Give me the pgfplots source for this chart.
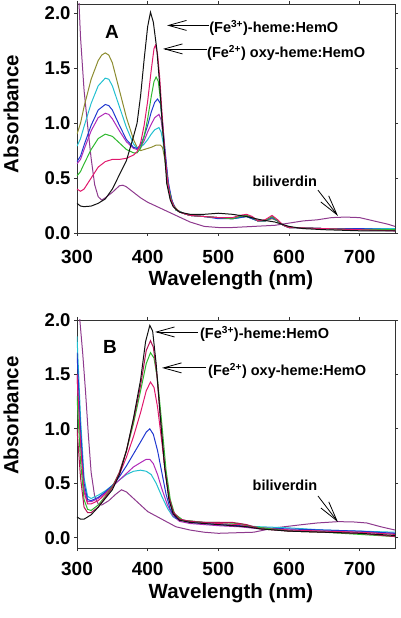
\documentclass[border=0pt]{standalone}
\usepackage{fontspec}
\setmainfont{Liberation Sans}
\usepackage{pgfplots}
\pgfplotsset{compat=1.18}
\usetikzlibrary{arrows.meta}
\definecolor{cblack}{HTML}{111111}
\definecolor{ccrim}{HTML}{E0186C}
\definecolor{cgreen}{HTML}{2EB82E}
\definecolor{cblue}{HTML}{2038D0}
\definecolor{cviol}{HTML}{B02AB8}
\definecolor{ccyan}{HTML}{22C0D0}
\definecolor{colive}{HTML}{8C8C30}
\definecolor{cplum}{HTML}{8E3A8E}
\tikzset{ann/.style={font=\fontsize{14.5}{14.5}\selectfont\bfseries, anchor=west, inner sep=0pt}}
\pgfplotsset{
  panel/.style={
    scale only axis, width=318pt, xmin=300, xmax=750,
    xtick={300,400,500,600,700}, ytick={0,0.5,1,1.5,2},
    tick align=outside, major tick length=3pt,
    axis line style={line width=0.8pt, black!80},
    tick style={line width=0.8pt, black!80},
    /pgf/number format/assume math mode=true,
    yticklabel style={/pgf/number format/.cd, fixed, fixed zerofill, precision=1, /tikz/.cd,
       font=\fontsize{18.5}{18.5}\selectfont\bfseries},
    xticklabel style={font=\fontsize{19}{19}\selectfont\bfseries, inner sep=0pt},
    every axis plot/.append style={line width=1pt},
    clip mode=individual,
  },
}
\begin{document}
\begin{tikzpicture}
\useasboundingbox (0,0) rectangle (400pt,618pt);
% ---------------- Panel A
\begin{axis}[panel, at={(77pt,385pt)}, anchor=south west, height=229pt, ymin=0, ymax=2.085,
  xticklabel style={yshift=-14pt}]
\addplot[cplum] coordinates {(300,2.5)(305,1.78)(310,1.3)(315,0.98)(320,0.68)(325,0.44)(330,0.33)(335,0.30)(340,0.32)(350,0.37)(360,0.43)(365,0.435)(370,0.42)(380,0.37)(390,0.32)(400,0.28)(420,0.22)(440,0.16)(460,0.10)(480,0.06)(500,0.05)(520,0.05)(550,0.06)(580,0.07)(600,0.09)(620,0.11)(640,0.12)(660,0.14)(680,0.145)(700,0.14)(720,0.11)(740,0.08)(750,0.06)};
\addplot[colive] coordinates {(300,0.90)(305,1.00)(310,1.15)(320,1.40)(330,1.57)(335,1.62)(340,1.64)(345,1.62)(350,1.55)(360,1.30)(370,1.05)(380,0.85)(385,0.78)(390,0.75)(395,0.76)(400,0.77)(405,0.78)(412,0.80)(418,0.80)(421,0.78)(424,0.68)(427,0.52)(431,0.36)(436,0.26)(442,0.21)(450,0.18)(460,0.16)(480,0.15)(500,0.14)(520,0.13)(530,0.14)(540,0.15)(548,0.13)(556,0.11)(566,0.11)(576,0.13)(584,0.11)(592,0.07)(600,0.05)(650,0.04)(700,0.03)(750,0.03)};
\addplot[ccyan] coordinates {(300,0.79)(305,0.86)(310,0.97)(320,1.18)(330,1.34)(340,1.41)(345,1.40)(350,1.34)(360,1.15)(370,0.96)(380,0.81)(385,0.77)(390,0.78)(395,0.81)(400,0.85)(405,0.90)(410,0.94)(416,0.96)(419,0.92)(422,0.82)(426,0.61)(430,0.41)(435,0.28)(440,0.21)(450,0.18)(460,0.16)(480,0.15)(500,0.14)(520,0.13)(530,0.14)(540,0.15)(548,0.13)(556,0.11)(566,0.11)(576,0.14)(584,0.11)(592,0.07)(600,0.05)(650,0.04)(700,0.04)(750,0.04)};
\addplot[cviol] coordinates {(300,0.63)(305,0.67)(310,0.76)(320,0.93)(330,1.05)(340,1.09)(345,1.08)(350,1.04)(360,0.93)(370,0.83)(380,0.77)(385,0.76)(390,0.78)(395,0.84)(400,0.92)(405,0.99)(410,1.05)(416,1.08)(419,1.03)(422,0.88)(426,0.63)(430,0.42)(435,0.28)(440,0.21)(450,0.18)(460,0.16)(480,0.15)(500,0.14)(520,0.13)(530,0.15)(540,0.16)(548,0.14)(556,0.11)(566,0.11)(576,0.14)(584,0.11)(592,0.07)(600,0.05)(650,0.04)(700,0.03)(750,0.02)};
\addplot[cblue] coordinates {(300,0.65)(305,0.70)(310,0.80)(320,0.98)(330,1.12)(340,1.17)(345,1.16)(350,1.12)(360,0.98)(370,0.85)(380,0.78)(385,0.77)(390,0.80)(395,0.88)(400,0.98)(405,1.10)(410,1.19)(414,1.22)(418,1.18)(421,1.01)(425,0.73)(429,0.47)(434,0.30)(440,0.21)(450,0.18)(460,0.16)(480,0.15)(500,0.13)(520,0.13)(530,0.14)(540,0.15)(548,0.13)(556,0.11)(566,0.11)(576,0.14)(584,0.11)(592,0.07)(600,0.05)(650,0.04)(700,0.04)(750,0.03)};
\addplot[cgreen] coordinates {(300,0.52)(305,0.56)(310,0.63)(320,0.76)(330,0.86)(340,0.90)(350,0.88)(360,0.82)(370,0.76)(380,0.73)(385,0.73)(390,0.77)(395,0.88)(400,1.04)(405,1.24)(409,1.38)(412,1.42)(415,1.38)(418,1.22)(421,0.96)(425,0.66)(429,0.43)(434,0.29)(440,0.21)(450,0.18)(460,0.16)(480,0.15)(500,0.14)(520,0.13)(530,0.15)(540,0.16)(548,0.14)(556,0.11)(566,0.11)(576,0.15)(584,0.11)(592,0.07)(600,0.05)(650,0.04)(700,0.03)(750,0.03)};
\addplot[ccrim] coordinates {(300,0.40)(305,0.38)(310,0.40)(320,0.50)(330,0.60)(340,0.65)(350,0.67)(360,0.67)(370,0.68)(380,0.71)(385,0.74)(390,0.82)(395,0.98)(400,1.20)(405,1.48)(409,1.68)(411,1.71)(414,1.63)(417,1.42)(420,1.12)(424,0.76)(428,0.48)(432,0.32)(438,0.23)(445,0.19)(460,0.16)(480,0.15)(500,0.14)(520,0.14)(530,0.16)(540,0.17)(548,0.15)(556,0.11)(566,0.12)(576,0.16)(584,0.12)(592,0.07)(600,0.05)(650,0.04)(700,0.03)(750,0.02)};
\addplot[cblack] coordinates {(300,0.27)(305,0.245)(310,0.24)(320,0.245)(330,0.27)(340,0.31)(350,0.40)(360,0.53)(370,0.66)(380,0.88)(385,1.00)(390,1.25)(395,1.58)(400,1.88)(404,2.01)(408,1.92)(413,1.67)(417,1.35)(420,1.06)(424,0.72)(427,0.45)(432,0.30)(436,0.24)(445,0.19)(460,0.17)(480,0.17)(500,0.18)(520,0.17)(540,0.15)(560,0.12)(580,0.10)(600,0.06)(620,0.04)(650,0.03)(700,0.02)(750,0.02)};
\node[font=\fontsize{19}{19}\selectfont\bfseries] at (axis cs:349.5,1.83) {A};
\draw[line width=0.8pt, -{Straight Barb[length=18pt,width=10pt]}] (axis cs:487,1.89) -- (axis cs:427.4,1.89);
\node[ann] at (axis cs:487,1.87) {(Fe\textsuperscript{3+})-heme:HemO};
\draw[line width=0.8pt, -{Straight Barb[length=18pt,width=10pt]}] (axis cs:484,1.676) -- (axis cs:421.7,1.676);
\node[ann] at (axis cs:484,1.64) {(Fe\textsuperscript{2+}) oxy-heme:HemO};
\node[font=\fontsize{14.5}{14.5}\selectfont\bfseries] at (axis cs:594,0.474) {biliverdin};
\draw[line width=0.8pt, -{Straight Barb[length=20pt,width=10pt]}] (axis cs:641,0.39) -- (axis cs:669.3,0.155);
\node[font=\fontsize{20.5}{20.5}\selectfont\bfseries, rotate=90, inner sep=0pt] at (axis description cs:-0.2075,0.52) {Absorbance};
\node[font=\fontsize{20.5}{20.5}\selectfont\bfseries, inner sep=0pt] at (axis description cs:0.484,-0.207) {Wavelength (nm)};
\end{axis}
% ---------------- Panel B
\begin{axis}[panel, at={(77pt,70pt)}, anchor=south west, height=228pt, ymin=-0.095, ymax=2.0,
  xticklabel style={yshift=-11pt}]
\addplot[cplum] coordinates {(300,2.6)(304,2.0)(308,1.7)(312,1.35)(316,0.95)(320,0.6)(325,0.38)(330,0.31)(335,0.30)(345,0.34)(355,0.40)(363,0.44)(370,0.42)(380,0.36)(390,0.30)(400,0.24)(420,0.17)(440,0.10)(460,0.07)(480,0.05)(500,0.04)(550,0.05)(580,0.09)(615,0.117)(640,0.135)(669,0.147)(690,0.145)(710,0.135)(730,0.10)(750,0.07)};
\addplot[ccyan] coordinates {(300,1.85)(305,1.1)(310,0.55)(315,0.38)(320,0.36)(330,0.39)(340,0.43)(350,0.48)(360,0.53)(370,0.58)(380,0.61)(390,0.62)(398,0.61)(405,0.58)(412,0.50)(420,0.38)(428,0.27)(436,0.19)(445,0.16)(460,0.15)(480,0.14)(500,0.13)(530,0.11)(560,0.10)(600,0.09)(650,0.07)(700,0.06)(750,0.05)};
\addplot[cviol] coordinates {(300,1.5)(305,0.9)(310,0.45)(315,0.33)(320,0.33)(330,0.36)(340,0.41)(350,0.47)(360,0.53)(370,0.59)(380,0.65)(390,0.69)(398,0.72)(403,0.72)(408,0.68)(414,0.58)(420,0.45)(428,0.30)(436,0.20)(445,0.15)(460,0.13)(480,0.12)(500,0.11)(530,0.10)(560,0.08)(600,0.07)(650,0.06)(700,0.05)(750,0.04)};
\addplot[cblue] coordinates {(300,1.7)(305,1.0)(310,0.5)(315,0.35)(320,0.34)(330,0.37)(340,0.42)(350,0.48)(360,0.56)(370,0.66)(380,0.77)(390,0.88)(398,0.97)(403,1.00)(408,0.95)(414,0.80)(420,0.60)(426,0.40)(432,0.26)(440,0.18)(460,0.14)(480,0.13)(500,0.12)(530,0.11)(560,0.09)(600,0.08)(650,0.07)(700,0.06)(750,0.04)};
\addplot[ccrim] coordinates {(300,1.5)(305,0.85)(310,0.42)(315,0.31)(320,0.31)(330,0.34)(340,0.40)(350,0.47)(360,0.58)(370,0.74)(380,0.93)(390,1.15)(398,1.35)(404,1.43)(409,1.38)(414,1.20)(420,0.88)(426,0.55)(432,0.32)(438,0.21)(450,0.16)(480,0.14)(500,0.13)(530,0.12)(560,0.09)(600,0.07)(650,0.06)(700,0.05)(750,0.03)};
\addplot[cgreen] coordinates {(300,1.3)(305,0.7)(310,0.35)(315,0.26)(320,0.25)(330,0.30)(340,0.38)(350,0.47)(360,0.60)(370,0.80)(380,1.05)(390,1.35)(398,1.60)(404,1.70)(409,1.65)(414,1.45)(420,1.05)(426,0.62)(432,0.35)(438,0.22)(450,0.16)(480,0.14)(500,0.14)(530,0.13)(550,0.10)(600,0.06)(650,0.05)(700,0.03)(750,0.01)};
\addplot[color=ccrim!80!black] coordinates {(300,1.0)(305,0.55)(310,0.28)(315,0.23)(320,0.23)(330,0.28)(340,0.37)(350,0.46)(360,0.60)(370,0.80)(380,1.08)(390,1.40)(398,1.72)(404,1.81)(408,1.75)(413,1.50)(418,1.10)(424,0.65)(430,0.38)(436,0.24)(445,0.17)(460,0.15)(480,0.14)(500,0.14)(520,0.14)(540,0.12)(560,0.08)(600,0.06)(650,0.05)(700,0.04)(750,0.01)};
\addplot[cblack] coordinates {(300,0.19)(305,0.17)(310,0.17)(320,0.21)(330,0.28)(340,0.36)(350,0.44)(360,0.58)(370,0.80)(380,1.10)(390,1.45)(397,1.80)(403,1.95)(407,1.90)(412,1.60)(418,1.10)(424,0.65)(430,0.35)(436,0.22)(445,0.16)(460,0.14)(480,0.13)(500,0.12)(520,0.11)(540,0.10)(560,0.08)(580,0.07)(600,0.06)(650,0.05)(700,0.04)(750,0.02)};
\node[font=\fontsize{19}{19}\selectfont\bfseries] at (axis cs:346.7,1.75) {B};
\draw[line width=0.8pt, -{Straight Barb[length=18pt,width=10pt]}] (axis cs:471.2,1.89) -- (axis cs:410.4,1.89);
\node[ann] at (axis cs:474,1.87) {(Fe\textsuperscript{3+})-heme:HemO};
\draw[line width=0.8pt, -{Straight Barb[length=18pt,width=10pt]}] (axis cs:482.5,1.56) -- (axis cs:420.3,1.56);
\node[ann] at (axis cs:485.4,1.53) {(Fe\textsuperscript{2+}) oxy-heme:HemO};
\node[font=\fontsize{14.5}{14.5}\selectfont\bfseries] at (axis cs:594.3,0.484) {biliverdin};
\draw[line width=0.8pt, -{Straight Barb[length=20pt,width=10pt]}] (axis cs:641,0.383) -- (axis cs:669.3,0.143);
\node[font=\fontsize{20.5}{20.5}\selectfont\bfseries, rotate=90, inner sep=0pt] at (axis description cs:-0.2075,0.58) {Absorbance};
\node[font=\fontsize{20.5}{20.5}\selectfont\bfseries, inner sep=0pt] at (axis description cs:0.484,-0.2) {Wavelength (nm)};
\end{axis}
\end{tikzpicture}
\end{document}
